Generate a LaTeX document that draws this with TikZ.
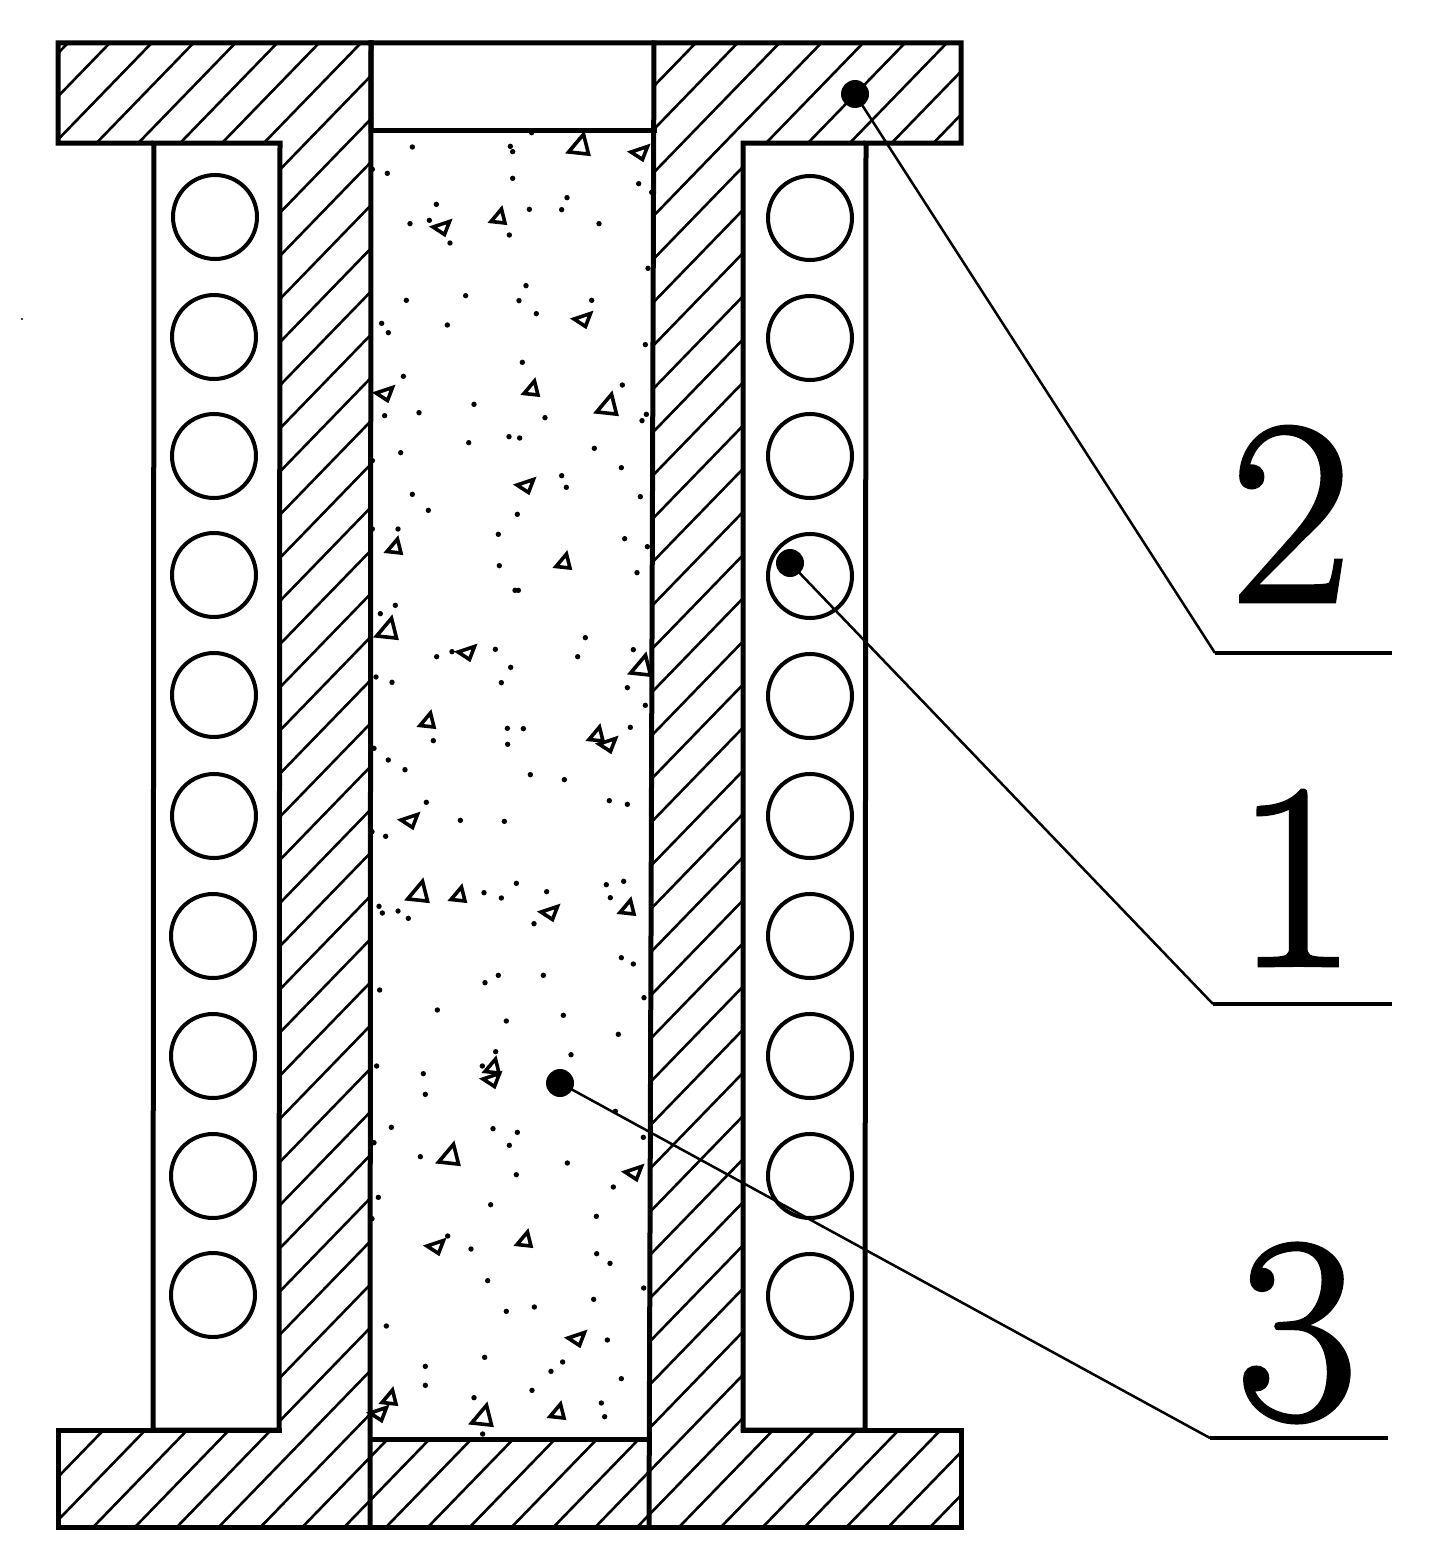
\documentclass[tikz,border=0pt]{standalone}
\usepackage{fontspec}
\newfontfamily\numfont[FakeBold=1.4]{Latin Modern Roman}
\tikzset{
  outline/.style={line width=5pt,line join=miter,line cap=rect},
  hatchline/.style={line width=2.6pt},
  coil/.style={line width=4pt},
  grain/.style={line width=3.6pt,line join=miter},
  leader/.style={line width=2.5pt},
  shelf/.style={line width=4.4pt},
  bigdot/.style={circle,fill=black,inner sep=0pt,minimum size=28pt},
  numeral/.style={inner sep=0pt,font=\numfont\fontsize{265}{265}\selectfont}
}
\newcommand{\sanddots}[3]{\foreach \a/\b in {#3} \fill ({#1+\a/3},{#2+\b/3}) circle[radius=2.7pt];}
\newcommand{\grainA}[3]{\draw[grain,shift={(#1,#2)},scale=#3] (2.5,-9)--(6,5)--(-8,3.5)--cycle;}
\newcommand{\grainB}[3]{\draw[grain,shift={(#1,#2)},scale=#3] (-9,-1)--(7.5,-6.5)--(2.5,6.5)--cycle;}
\begin{document}
\begin{tikzpicture}[x=1pt,y=-1pt]
\path[use as bounding box,fill=white] (0,0) rectangle (1435,1563);
% hatching
\begin{scope}
\clip (58,43)--(371,43)--(370,1439)--(649,1439)--(649,1527)--(58,1527)--(58,1430)--(279,1430)--(280,143)--(58,143)--cycle
      (654,43)--(961,43)--(961,143)--(743,143)--(743,1430)--(961,1430)--(961,1527)--(649,1527)--cycle;
\foreach \k in {-17,...,42} \draw[hatchline] ({737.4+41.85*\k},0)--({737.4+41.85*\k-1563*0.97},1563);
\end{scope}
% plates and walls
\draw[outline] (371,130)--(371,43)--(58,43)--(58,143)--(280,143)--(279,1430)--(153,1430)--(154,143);
\draw[outline] (371,43)--(961,43)--(961,143)--(743,143)--(743,1430)--(865,1430)--(866,143);
\draw[outline] (371,43)--(370,1527);
\draw[outline] (654,43)--(649,1527);
\draw[outline] (371,130)--(654,130);
\draw[outline] (370,1439)--(649,1439);
\draw[outline] (58,1430)--(279,1430);
\draw[outline] (743,1430)--(961,1430)--(961,1527)--(58,1527)--(58,1430);
% coils
\foreach \y/\x in {217/215,337/214,456/214,575/214,695/214,816/214,936/213,1056/213,1176/213,1295/213}
  \draw[coil] (\x,\y) circle[radius=42pt];
\foreach \y in {218,338,456,576,696,816,936,1056,1176,1296}
  \draw[coil] (810,\y) circle[radius=42pt];
% sand
\sanddots{360}{120}{157/81,451/79,458/95,515/38,82/160,37/148,458/175,836/191,875/217,621/233,229/253,508/268,605/269,208/301,150/311,717/311,270/369,448/345,864/445,498/497,317/527,139/541,477/542,695/541,529/581,65/610,85/638,262/615,856/674,487/727,130/769,787/795,342/853,177/878,74/887,859/883,846/902,555/893}
\sanddots{360}{430}{447/20,479/24,326/38,122/68,703/55,784/113,605/137,619/172,37/92,157/193,205/241,841/200,472/253,37/297,114/297,415/313,794/326,862/350,418/407,831/428,465/481,475/481,106/526,61/551,676/623,406/658,276/665,230/680,653/680,820/659,452/712,48/741,96/757,424/758,802/773,856/826,811/892,442/895,490/896,220/932,443/943}
\sanddots{360}{740}{42/25,85/60,135/89,511/104,613/119,748/182,802/193,199/187,301/241,433/244,36/275,77/289,469/430,372/458,424/474,560/455,739/434,791/424,751/473,57/499,67/519,114/513,145/535,522/551,784/653,820/672,415/706,550/706,375/728,59/750,852/773,232/810,439/843,610/826,775/883,407/935,633/944}
\sanddots{360}{1050}{50/48,367/48,190/71,196/133,94/232,399/236,472/247,42/278,448/286,766/184,850/262,181/320,622/339,469/374,760/411,55/442,392/464,36/506,709/499,263/558,333/597,710/611,750/640,383/692,851/714,701/748,523/771,439/784,79/828,742/870,374/922,608/936,196/949}
\sanddots{340}{1300}{256/256,402/293,576/271,633/214,844/236,784/309,794/350,428/402}
\fill (22,319) circle[radius=1.2pt];
% large and small grains
\foreach \x/\y in {499/218,532/390,395/548,564/563,428/722,597/736,459/896,628/909,493/1068,525/1241,390/1399,558/1413} {\grainA{\x}{\y}{1}}
\foreach \x/\y in {580/147,608/407,388/631,642/668,419/894,450/1157,483/1418} {\grainA{\x}{\y}{1.42}}
\foreach \x/\y in {640/153,442/228,583/320,385/394,526/486,467/653,608/745,410/821,550/913,492/1080,634/1173,436/1247,577/1339,379/1414} {\grainB{\x}{\y}{1}}
% callouts
\node[bigdot] (d2) at (855,94) {};
\node[bigdot] (d1) at (790,563) {};
\node[bigdot] (d3) at (560,1083) {};
\coordinate (e2) at (1215,653);
\coordinate (f2) at (1392,653);
\coordinate (e1) at (1213,1004);
\coordinate (f1) at (1392,1004);
\coordinate (e3) at (1210,1438);
\coordinate (f3) at (1388,1438);
\draw[leader] (d2.center)--(e2);
\draw[shelf] (e2)--(f2);
\draw[leader] (d1.center)--(e1);
\draw[shelf] (e1)--(f1);
\draw[leader] (d3.center)--(e3);
\draw[shelf] (e3)--(f3);
\node[numeral] (n2) at (1291,514) {2};
\node[numeral] (n1) at (1296,878) {1};
\node[numeral] (n3) at (1297,1333) {3};
\end{tikzpicture}
\end{document}
